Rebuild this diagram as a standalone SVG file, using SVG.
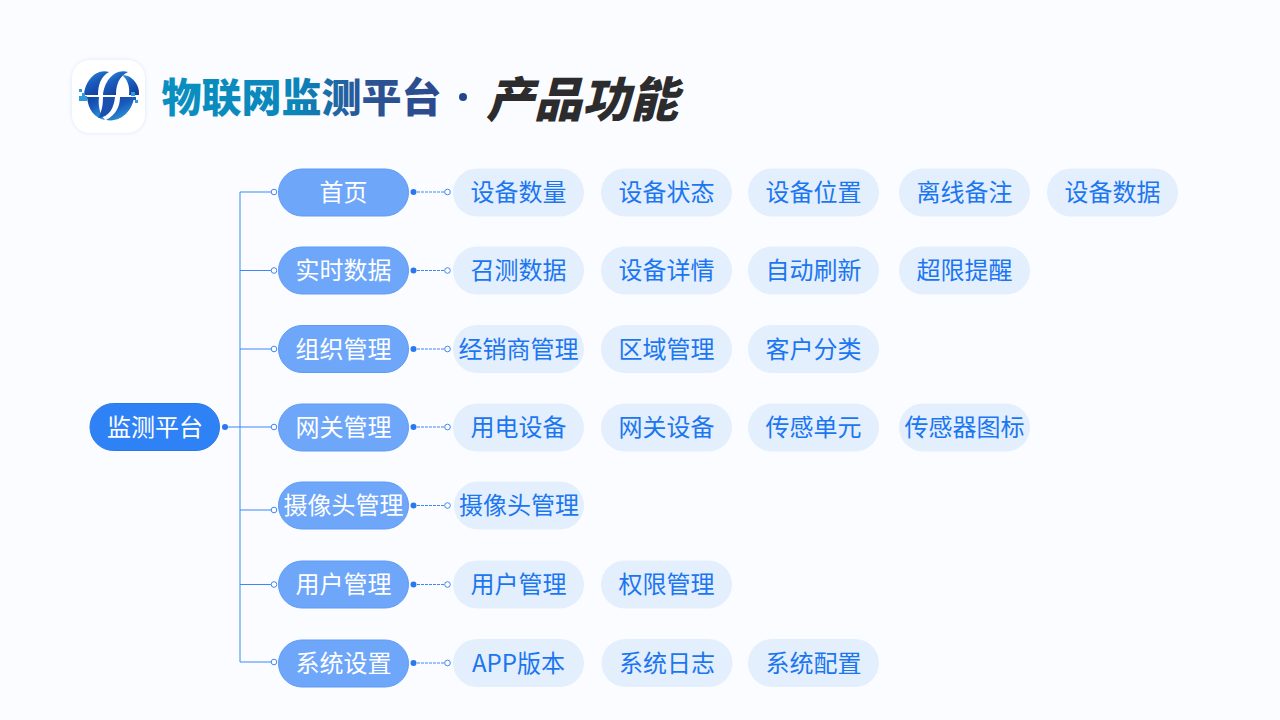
<svg xmlns="http://www.w3.org/2000/svg" width="1280" height="720" viewBox="0 0 1280 720">
<defs>
<linearGradient id="tg" gradientUnits="userSpaceOnUse" x1="163" y1="0" x2="440" y2="0"><stop offset="0" stop-color="#0a8fc0"/><stop offset="0.48" stop-color="#0a86bb"/><stop offset="0.72" stop-color="#2a5596"/><stop offset="1" stop-color="#2c4a8c"/></linearGradient>
<linearGradient id="lg" x1="0" y1="0" x2="0.6" y2="1"><stop offset="0" stop-color="#2f9ad8"/><stop offset="0.5" stop-color="#1a5bbd"/><stop offset="1" stop-color="#123f9c"/></linearGradient>
<linearGradient id="lh" x1="0" y1="0" x2="0.6" y2="1"><stop offset="0" stop-color="#123f9c"/><stop offset="0.5" stop-color="#1a5bbd"/><stop offset="1" stop-color="#2f9ad8"/></linearGradient>
<filter id="sh" x="-20%" y="-20%" width="140%" height="140%"><feDropShadow dx="0" dy="0" stdDeviation="2" flood-color="#c5dcff" flood-opacity="0.7"/></filter>
</defs>
<style>
text{font-family:"Noto Sans CJK SC","Noto Sans",sans-serif;text-anchor:middle;dominant-baseline:central}
.root rect{fill:#2f82f6;stroke:#2a78e8;stroke-width:1}
.root text{fill:#fff;font-size:24px;font-weight:400}
.l1 rect{fill:#6ea6fa;stroke:#5f9bf5;stroke-width:1}
.l1 text{fill:#fff;font-size:24px;font-weight:400}
.leaf rect{fill:#e3effd}
.leaf text{fill:#1c76f0;font-size:24px;font-weight:400}
.ln{fill:none;stroke:#3f87f5;stroke-width:1}
.ds{fill:none;stroke:#3f87f5;stroke-width:1;stroke-dasharray:3 1}
.o{fill:#fff;stroke:#3f87f5;stroke-width:1}
.d{fill:#2a78f0}
</style>
<rect width="1280" height="720" fill="#fbfcff"/>
<g id="logo">
<rect x="72" y="60" width="73" height="73" rx="18" fill="#fff" filter="url(#sh)"/>
<path d="M109 72C96 68 85 81 84 95H98C98 85 101 76 109 72Z" fill="url(#lg)"/>
<path d="M128 72C114 68 104 82 103 95H116C116 85 119 76 128 72Z" fill="url(#lg)"/>
<path d="M122 75C133 75 140 86 139 95H129C130 87 128 80 122 75Z" fill="url(#lg)"/>
<path d="M87 97C88 109 94 118 105 120C99 113 98 104 99 97Z" fill="url(#lh)"/>
<path d="M103 97H115C114 107 110 117 98 118C102 112 103 104 103 97Z" fill="#1a50b0"/>
<path d="M120 97H134C133 109 122 123 106 120C116 115 120 106 120 97Z" fill="url(#lh)"/>
<rect x="79" y="96" width="8" height="5" fill="#2f9ad8"/><rect x="79" y="89" width="3" height="3" fill="#2f9ad8"/><rect x="82" y="93" width="3" height="3" fill="#2f9ad8"/>
<rect x="131" y="92" width="4" height="4" fill="#2f9ad8"/><rect x="132" y="97" width="4" height="3" fill="#1a5bbd"/><rect x="135" y="100" width="3" height="3" fill="#2f9ad8"/>
</g>
<g id="title">
<text x="301.500" y="95" style="font-size:40px;font-weight:900" fill="url(#tg)">物联网监测平台</text>
<circle cx="463" cy="97" r="4" fill="#24478c"/>
<text x="582" y="96" style="font-size:48px;font-weight:900;font-style:italic" fill="#2c2c2e">产品功能</text>
</g>
<g id="connectors">
<path class="ln" d="M240 192V662M240 192H272M240 270.500H272M240 349H272M225 427H272M240 510H272M240 584.500H272M240 662H272"/>
<g class="ds"><path d="M413 192H447M413 270.500H447M413 349H447M413 427H447M413 505.500H447M413 584.500H447M413 663H447"/></g>
<circle class="d" cx="225" cy="427" r="3"/>
<g class="o"><circle cx="274" cy="192" r="2.800"/><circle cx="274" cy="270.500" r="2.800"/><circle cx="274" cy="349" r="2.800"/><circle cx="274" cy="427" r="2.800"/><circle cx="274" cy="510" r="2.800"/><circle cx="274" cy="584.500" r="2.800"/><circle cx="274" cy="662" r="2.800"/>
<circle cx="447.500" cy="192" r="2.800"/><circle cx="447.500" cy="270.500" r="2.800"/><circle cx="447.500" cy="349" r="2.800"/><circle cx="447.500" cy="427" r="2.800"/><circle cx="447.500" cy="505.500" r="2.800"/><circle cx="447.500" cy="584.500" r="2.800"/><circle cx="447.500" cy="663" r="2.800"/></g>
<g class="d"><circle cx="413.500" cy="192" r="3"/><circle cx="413.500" cy="270.500" r="3"/><circle cx="413.500" cy="349" r="3"/><circle cx="413.500" cy="427" r="3"/><circle cx="413.500" cy="505.500" r="3"/><circle cx="413.500" cy="584.500" r="3"/><circle cx="413.500" cy="663" r="3"/></g>
</g>
<g id="root" class="root"><rect x="90" y="403.500" width="129.500" height="47" rx="23.500"/><text x="155" y="425">监测平台</text></g>
<g id="n1" class="l1"><rect x="278.500" y="169" width="130" height="47" rx="23.500"/><text x="343.500" y="190">首页</text></g>
<g id="n2" class="l1"><rect x="278.500" y="247" width="130" height="47" rx="23.500"/><text x="343.500" y="268.500">实时数据</text></g>
<g id="n3" class="l1"><rect x="278.500" y="325.500" width="130" height="47" rx="23.500"/><text x="343.500" y="347">组织管理</text></g>
<g id="n4" class="l1"><rect x="278.500" y="404" width="130" height="47" rx="23.500"/><text x="343.500" y="425">网关管理</text></g>
<g id="n5" class="l1"><rect x="278.500" y="482" width="130" height="47" rx="23.500"/><text x="343.500" y="503.500">摄像头管理</text></g>
<g id="n6" class="l1"><rect x="278.500" y="561" width="130" height="47" rx="23.500"/><text x="343.500" y="582">用户管理</text></g>
<g id="n7" class="l1"><rect x="278.500" y="640" width="130" height="47" rx="23.500"/><text x="343.500" y="661">系统设置</text></g>
<g id="a1" class="leaf"><rect x="453" y="168.500" width="131" height="48" rx="24"/><text x="518.500" y="190">设备数量</text></g>
<g id="a2" class="leaf"><rect x="601" y="168.500" width="131" height="48" rx="24"/><text x="666.500" y="190">设备状态</text></g>
<g id="a3" class="leaf"><rect x="748" y="168.500" width="131" height="48" rx="24"/><text x="813.500" y="190">设备位置</text></g>
<g id="a4" class="leaf"><rect x="899" y="168.500" width="131" height="48" rx="24"/><text x="964.500" y="190">离线备注</text></g>
<g id="a5" class="leaf"><rect x="1047" y="168.500" width="131" height="48" rx="24"/><text x="1112.500" y="190">设备数据</text></g>
<g id="b1" class="leaf"><rect x="453" y="246.500" width="131" height="48" rx="24"/><text x="518.500" y="268.500">召测数据</text></g>
<g id="b2" class="leaf"><rect x="601" y="246.500" width="131" height="48" rx="24"/><text x="666.500" y="268.500">设备详情</text></g>
<g id="b3" class="leaf"><rect x="748" y="246.500" width="131" height="48" rx="24"/><text x="813.500" y="268.500">自动刷新</text></g>
<g id="b4" class="leaf"><rect x="899" y="246.500" width="131" height="48" rx="24"/><text x="964.500" y="268.500">超限提醒</text></g>
<g id="c1" class="leaf"><rect x="453" y="325" width="131" height="48" rx="24"/><text x="518.500" y="347">经销商管理</text></g>
<g id="c2" class="leaf"><rect x="601" y="325" width="131" height="48" rx="24"/><text x="666.500" y="347">区域管理</text></g>
<g id="c3" class="leaf"><rect x="748" y="325" width="131" height="48" rx="24"/><text x="813.500" y="347">客户分类</text></g>
<g id="d1" class="leaf"><rect x="453" y="403.500" width="131" height="48" rx="24"/><text x="518.500" y="425">用电设备</text></g>
<g id="d2" class="leaf"><rect x="601" y="403.500" width="131" height="48" rx="24"/><text x="666.500" y="425">网关设备</text></g>
<g id="d3" class="leaf"><rect x="748" y="403.500" width="131" height="48" rx="24"/><text x="813.500" y="425">传感单元</text></g>
<g id="d4" class="leaf"><rect x="899" y="403.500" width="131" height="48" rx="24"/><text x="964.500" y="425">传感器图标</text></g>
<g id="e1" class="leaf"><rect x="454" y="481.500" width="130" height="48" rx="24"/><text x="519" y="503.500">摄像头管理</text></g>
<g id="f1" class="leaf"><rect x="453" y="560.500" width="131" height="48" rx="24"/><text x="518.500" y="582">用户管理</text></g>
<g id="f2" class="leaf"><rect x="601" y="560.500" width="131" height="48" rx="24"/><text x="666.500" y="582">权限管理</text></g>
<g id="g1" class="leaf"><rect x="453" y="639" width="131" height="48" rx="24"/><text x="518.500" y="661">APP版本</text></g>
<g id="g2" class="leaf"><rect x="601.500" y="639" width="131" height="48" rx="24"/><text x="667" y="661">系统日志</text></g>
<g id="g3" class="leaf"><rect x="748" y="639" width="131" height="48" rx="24"/><text x="813.500" y="661">系统配置</text></g>
</svg>
